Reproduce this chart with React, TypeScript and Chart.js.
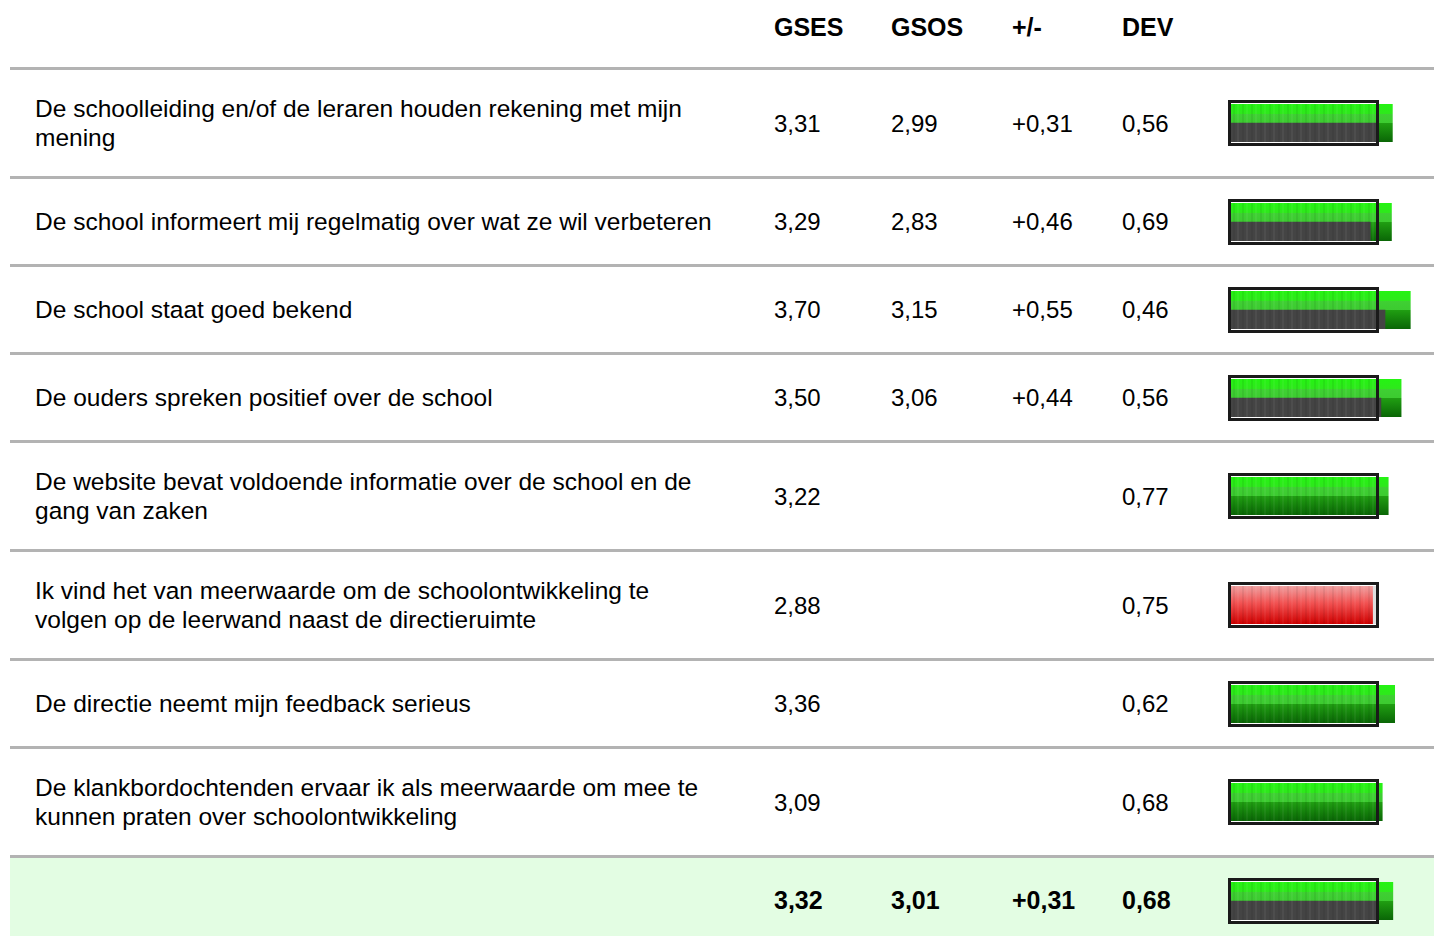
import React, { useEffect, useRef } from 'react';
import { Chart, registerables } from 'chart.js';

Chart.register(...registerables);

// ---- Data ----
const columnHeaders = ['GSES', 'GSOS', '+/-', 'DEV'];
const questions = [
  'De schoolleiding en/of de leraren houden rekening met mijn\nmening',
  'De school informeert mij regelmatig over wat ze wil verbeteren',
  'De school staat goed bekend',
  'De ouders spreken positief over de school',
  'De website bevat voldoende informatie over de school en de\ngang van zaken',
  'Ik vind het van meerwaarde om de schoolontwikkeling te\nvolgen op de leerwand naast de directieruimte',
  'De directie neemt mijn feedback serieus',
  'De klankbordochtenden ervaar ik als meerwaarde om mee te\nkunnen praten over schoolontwikkeling',
];
const gsesValues: number[] = [3.31, 3.29, 3.7, 3.5, 3.22, 2.88, 3.36, 3.09];
const gsosValues: (number | null)[] = [2.99, 2.83, 3.15, 3.06, null, null, null, null];
const diffValues: (number | null)[] = [0.31, 0.46, 0.55, 0.44, null, null, null, null];
const devValues: number[] = [0.56, 0.69, 0.46, 0.56, 0.77, 0.75, 0.62, 0.68];
const totalGses = 3.32;
const totalGsos = 3.01;
const totalDiff = 0.31;
const totalDev = 0.68;

// ---- Scale settings ----
const AXIS_MIN = -0.2;
const AXIS_MAX = 4.15;
const THRESHOLD = 3.0;

const fmt = (v: number | null | undefined, sign = false) => {
  if (v === null || v === undefined) return '';
  const s = v.toFixed(2).replace('.', ',');
  return sign && v >= 0 ? '+' + s : s;
};

const BOX_W = 151;

const boxPlugin = {
  id: 'scoreBox',
  beforeDatasetsDraw(chart: any) {
    const { ctx, chartArea } = chart;
    const x0 = chartArea.left - 3;
    const y0 = chartArea.top - 4;
    const h = chartArea.bottom - chartArea.top + 8;
    ctx.save();
    ctx.fillStyle = '#ffffff';
    ctx.fillRect(x0 + 3, y0 + 3, BOX_W - 6, h - 6);
    ctx.fillStyle = '#dedede';
    ctx.fillRect(chartArea.left, chartArea.top, BOX_W - 6, chartArea.bottom - chartArea.top);
    ctx.restore();
  },
  afterDatasetsDraw(chart: any) {
    const { ctx, chartArea } = chart;
    const x0 = chartArea.left - 3;
    const y0 = chartArea.top - 4;
    const h = chartArea.bottom - chartArea.top + 8;
    ctx.save();
    // subtle vertical stripes inside the box
    for (let x = chartArea.left + 2; x < x0 + BOX_W - 4; x += 9) {
      ctx.fillStyle = 'rgba(0,0,0,0.06)';
      ctx.fillRect(x, chartArea.top, 2, chartArea.bottom - chartArea.top);
      ctx.fillStyle = 'rgba(255,255,255,0.05)';
      ctx.fillRect(x + 4, chartArea.top, 2, chartArea.bottom - chartArea.top);
    }
    ctx.strokeStyle = '#1a1a1a';
    ctx.lineWidth = 3;
    ctx.strokeRect(x0 + 1.5, y0 + 1.5, BOX_W - 3, h - 3);
    ctx.restore();
  },
};

function BarCell({ gses, gsos }: { gses: number; gsos: number | null }) {
  const ref = useRef<HTMLCanvasElement>(null);
  useEffect(() => {
    const canvas = ref.current!;
    const ctx = canvas.getContext('2d')!;
    const grad = (stops: [number, string][]) => {
      const g = ctx.createLinearGradient(0, 4, 0, 42);
      stops.forEach(([o, c]) => g.addColorStop(o, c));
      return g;
    };
    const green = grad([
      [0, '#24f412'],
      [0.25, '#2ee81c'],
      [0.26, '#3fd033'],
      [0.5, '#3ccb30'],
      [0.5, '#209f12'],
      [1, '#0a6606'],
    ]);
    const red = grad([
      [0, '#f0a0a0'],
      [0.45, '#f25252'],
      [1, '#cf0000'],
    ]);
    const datasets: any[] = [
      {
        label: 'GSES',
        data: [{ x: gses, y: 'GSES' }],
        yAxisID: 'y',
        backgroundColor: gses >= THRESHOLD ? green : red,
        base: AXIS_MIN,
        barPercentage: 1,
        categoryPercentage: 1,
        grouped: false,
        borderWidth: 0,
        order: 2,
      },
    ];
    if (gsos !== null) {
      datasets.push({
        label: 'GSOS',
        data: [{ x: gsos, y: 'c' }],
        yAxisID: 'y2',
        backgroundColor: '#444444',
        base: AXIS_MIN,
        barPercentage: 1,
        categoryPercentage: 1,
        grouped: false,
        borderWidth: 0,
        order: 1,
      });
    }
    const chart = new Chart(canvas, {
      type: 'bar',
      data: { datasets },
      options: {
        indexAxis: 'y',
        animation: false,
        responsive: false,
        events: [],
        layout: { padding: { left: 9, right: 1, top: 4, bottom: 4 } },
        plugins: { legend: { display: false }, tooltip: { enabled: false } },
        scales: {
          x: { type: 'linear', min: AXIS_MIN, max: AXIS_MAX, display: false },
          y: { type: 'category', labels: ['GSES'], display: false },
          y2: { type: 'category', labels: ['a', 'b', 'c'], display: false },
        },
      } as any,
      plugins: [boxPlugin],
    });
    return () => chart.destroy();
  }, [gses, gsos]);
  return (
    <canvas ref={ref} width={210} height={46} style={{ display: 'block', width: 210, height: 46, flexShrink: 0 }} />
  );
}

const cellW = { label: 739, gses: 117, gsos: 121, diff: 110, dev: 100 };

function Row({
  label,
  gses,
  gsos,
  diff,
  dev,
  bold,
  bg,
}: {
  label: string;
  gses: number;
  gsos: number | null;
  diff: number | null;
  dev: number;
  bold?: boolean;
  bg?: string;
}) {
  const numStyle = (w: number) => ({ width: w, flexShrink: 0, fontSize: bold ? 25 : 24 });
  return (
    <div
      style={{
        borderTop: '3px solid #b3b3b3',
        display: 'flex',
        alignItems: 'center',
        minHeight: 85,
        background: bg || 'transparent',
        fontWeight: bold ? 'bold' : 'normal',
      }}
    >
      <div
        style={{
          marginLeft: 25,
          width: cellW.label,
          flexShrink: 0,
          padding: '24px 0',
          whiteSpace: 'pre-line',
          fontSize: 24.5,
        }}
      >
        {label}
      </div>
      <div style={numStyle(cellW.gses)}>{fmt(gses)}</div>
      <div style={numStyle(cellW.gsos)}>{fmt(gsos)}</div>
      <div style={numStyle(cellW.diff)}>{fmt(diff, true)}</div>
      <div style={numStyle(cellW.dev)}>{fmt(dev)}</div>
      <BarCell gses={gses} gsos={gsos} />
    </div>
  );
}

export default function App() {
  return (
    <>
      <style>{'html,body{margin:0;overflow:hidden;background:#fff}'}</style>
      <div
        style={{
          marginLeft: 10,
          width: 1424,
          fontFamily: '"Liberation Sans", Arial, Helvetica, sans-serif',
          fontSize: 24,
          lineHeight: '29px',
          color: '#000',
        }}
      >
        <div
          style={{
            height: 67,
            boxSizing: 'border-box',
            paddingTop: 13,
            display: 'flex',
            fontWeight: 'bold',
            fontSize: 25,
          }}
        >
          <div style={{ marginLeft: 25, width: cellW.label, flexShrink: 0 }} />
          <div style={{ width: cellW.gses, flexShrink: 0 }}>{columnHeaders[0]}</div>
          <div style={{ width: cellW.gsos, flexShrink: 0 }}>{columnHeaders[1]}</div>
          <div style={{ width: cellW.diff, flexShrink: 0 }}>{columnHeaders[2]}</div>
          <div style={{ width: cellW.dev, flexShrink: 0 }}>{columnHeaders[3]}</div>
        </div>
        {questions.map((q, i) => (
          <Row key={i} label={q} gses={gsesValues[i]} gsos={gsosValues[i]} diff={diffValues[i]} dev={devValues[i]} />
        ))}
        <Row label="" gses={totalGses} gsos={totalGsos} diff={totalDiff} dev={totalDev} bold bg="#e3fde3" />
      </div>
    </>
  );
}
